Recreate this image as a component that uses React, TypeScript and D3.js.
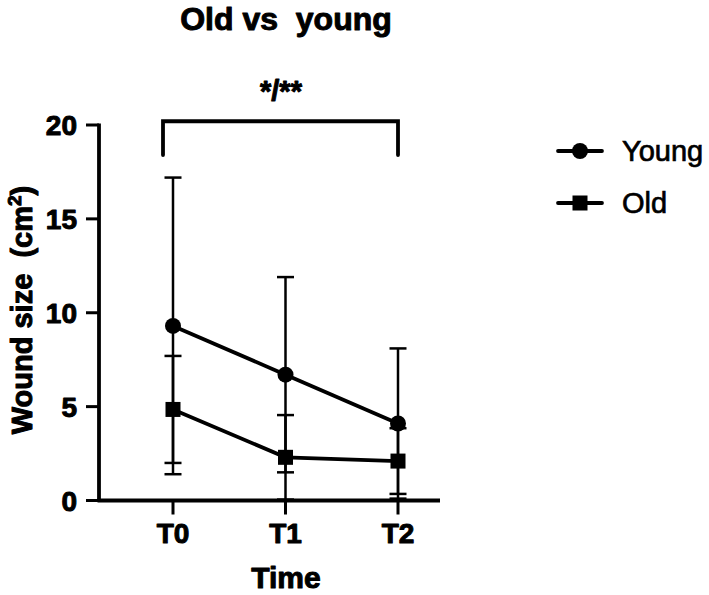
import React from "react";
import * as d3 from "d3";

const categories = ["T0", "T1", "T2"];
const youngMean = [9.3, 6.7, 4.1];
const youngSD = [7.9, 5.2, 4.0];
const oldMean = [4.85, 2.3, 2.1];
const oldSD = [2.85, 2.25, 1.75];
const yTicks = [0, 5, 10, 15, 20];
const seriesNames = ["Young", "Old"];

const W = 709;
const H = 595;
const FONT = "'Liberation Sans', Arial, Helvetica, sans-serif";

export default function App() {
  const y = d3.scaleLinear().domain([0, 20]).range([500.5, 125]);
  const x = d3.scalePoint<string>().domain(categories).range([173, 398]);
  const axisLeft = 99;
  const axisRight = 440;
  const line = d3
    .line<number>()
    .x((_, i) => x(categories[i]) as number)
    .y((d) => y(d));

  const series = [
    { name: seriesNames[0], mean: youngMean, sd: youngSD, shape: "circle" },
    { name: seriesNames[1], mean: oldMean, sd: oldSD, shape: "square" },
  ];

  const marker = (shape: string, cx: number, cy: number, key: string) =>
    shape === "circle" ? (
      <circle key={key} cx={cx} cy={cy} r={8} fill="#000" />
    ) : (
      <rect key={key} x={cx - 7.5} y={cy - 7.5} width={15} height={15} fill="#000" />
    );

  const heavy = { stroke: "#000", strokeWidth: 1, strokeLinejoin: "round" as const };

  return (
    <svg
      width={W}
      height={H}
      style={{ position: "absolute", left: 0, top: 0, background: "#fff" }}
      fontFamily={FONT}
      fontWeight="bold"
    >
      <rect width={W} height={H} fill="#fff" />
      {/* Title */}
      <text x={286} y={30} textAnchor="middle" fontSize={32} fill="#000" {...heavy}>
        Old vs{"\u00a0\u00a0"}young
      </text>

      {/* Significance bracket */}
      <path
        d={`M163,${y(18.4)} V${y(20.2)} H398 V${y(18.4)}`}
        fill="none"
        stroke="#000"
        strokeWidth={3.8}
        strokeLinecap="round"
      />
      <text x={281} y={101} textAnchor="middle" fontSize={29} fill="#000" {...heavy}>
        */**
      </text>

      {/* Y axis */}
      <line x1={axisLeft} x2={axisLeft} y1={y(20) - 1.5} y2={y(0) + 1.5} stroke="#000" strokeWidth={3.8} />
      {yTicks.map((t) => (
        <g key={t}>
          <line x1={axisLeft - 13} x2={axisLeft} y1={y(t)} y2={y(t)} stroke="#000" strokeWidth={3} />
          <text x={77} y={y(t)} dy="0.36em" textAnchor="end" fontSize={28} fill="#000" {...heavy}>
            {t}
          </text>
        </g>
      ))}
      <text
        transform={`translate(32,${310}) rotate(-90)`}
        textAnchor="middle"
        fontSize={29}
        fill="#000"
        {...heavy}
      >
        Wound size{"\u00a0\u00a0"}(cm
        <tspan fontSize={19} dy={-11}>2</tspan>
        <tspan dy={11}>)</tspan>
      </text>

      {/* X axis */}
      <line x1={axisLeft - 1.5} x2={axisRight} y1={y(0)} y2={y(0)} stroke="#000" strokeWidth={3.8} />
      {categories.map((c) => (
        <g key={c}>
          <line x1={x(c)} x2={x(c)} y1={y(0)} y2={y(0) + 14} stroke="#000" strokeWidth={3} />
          <text x={x(c)} y={543} textAnchor="middle" fontSize={28} fill="#000" {...heavy}>
            {c}
          </text>
        </g>
      ))}
      <text x={286} y={588} textAnchor="middle" fontSize={30} fill="#000" {...heavy}>
        Time
      </text>

      {/* Error bars */}
      {series.map((s) =>
        s.mean.map((m, i) => {
          const cx = x(categories[i]) as number;
          const hi = y(m + s.sd[i]);
          const lo = y(Math.max(0, m - s.sd[i]));
          return (
            <g key={`${s.name}-eb-${i}`} stroke="#000" strokeWidth={2.5}>
              <line x1={cx} x2={cx} y1={hi} y2={lo} />
              <line x1={cx - 8.5} x2={cx + 8.5} y1={hi} y2={hi} />
              <line x1={cx - 8.5} x2={cx + 8.5} y1={lo} y2={lo} />
            </g>
          );
        })
      )}

      {/* Lines and markers */}
      {series.map((s) => (
        <g key={s.name}>
          <path d={line(s.mean) as string} fill="none" stroke="#000" strokeWidth={3.8} />
          {s.mean.map((m, i) => marker(s.shape, x(categories[i]) as number, y(m), `${s.name}-m-${i}`))}
        </g>
      ))}

      {/* Legend */}
      {series.map((s, i) => {
        const ly = 151 + i * 52;
        return (
          <g key={`leg-${s.name}`}>
            <line x1={558} x2={602} y1={ly} y2={ly} stroke="#000" strokeWidth={3.8} strokeLinecap="round" />
            {marker(s.shape, 580, ly, `leg-m-${s.name}`)}
            <text
              x={622}
              y={ly}
              dy="0.36em"
              fontSize={29}
              fontWeight="normal"
              fill="#000"
              stroke="#000"
              strokeWidth={0.7}
            >
              {s.name}
            </text>
          </g>
        );
      })}
    </svg>
  );
}
